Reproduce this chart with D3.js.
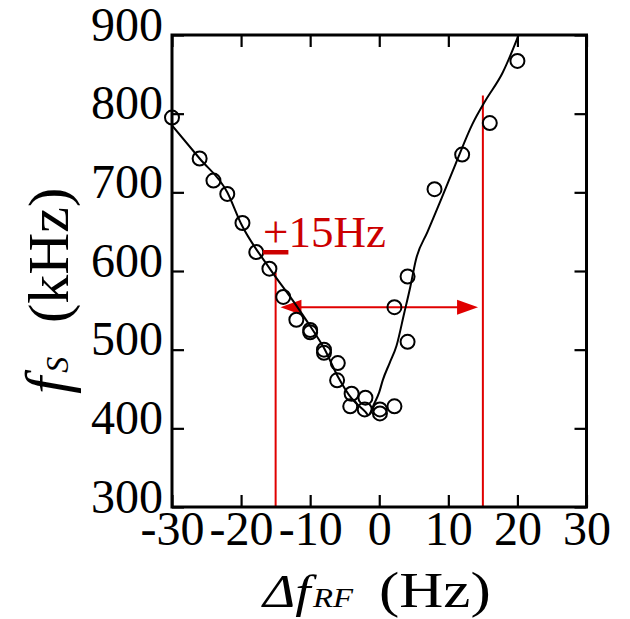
<!DOCTYPE html>
<html>
<head>
<meta charset="utf-8">
<script src="https://cdn.jsdelivr.net/npm/d3@7"></script>
<style>
  body { margin: 0; background: #fff; }
  svg text { font-family: "Liberation Serif", "Times New Roman", serif; }
</style>
</head>
<body>
<svg id="chart" width="630" height="619"></svg>
<script>
// measured points: detuning (Hz) vs frequency (kHz)
var pointX = [-30, -26, -24, -22, -19.8, -17.8, -15.9, -13.9, -12, -10, -10, -8, -8, -6, -6.1, -4, -4.2, -2, -2.1, 0.1, 0.1, 2.2, 2.2, 4.1, 4.1, 8, 12, 16, 20];
var pointY = [795, 743, 715, 698, 661, 624, 603, 567, 538, 525, 522, 500, 496, 483, 461, 444, 428, 439, 424, 424, 419, 428, 554, 510, 593, 704, 748, 788, 867];

// fitted curve
var lineX = [-30, -26, -22, -20, -16, -12, -10, -8, -6, -4, -2, -1.6, -0.7, 0, 0.5, 1.5, 2.5, 3.6, 4.5, 5.3, 7, 9, 11, 13.5, 15.4, 17.8, 20.4];
var lineY = [785, 743, 700, 660, 605, 556, 530, 502, 466, 438, 421, 417, 432, 446, 461, 483, 505, 546, 580, 614, 650, 692, 735, 787, 817, 851, 905];

// ±15 Hz markers
var markX = [-15, 15];
var markTop = [598, 823];
var arrowX = [-14.3, 14.3];
var arrowY = 554;

var xTicks = [-30, -20, -10, 0, 10, 20, 30];
var yTicks = [300, 400, 500, 600, 700, 800, 900];

var RED = "#e00000";
var RED_TEXT = "#cc0000";

var svg = d3.select("#chart");

var x = d3.scaleLinear().domain([-30, 30]).range([172, 586.5]);
var y = d3.scaleLinear().domain([300, 900]).range([507, 35]);

var fmt = function(d) { return String(d); };

// axes, ticks inward
var gx = svg.append("g").attr("transform", "translate(0,507)")
    .call(d3.axisBottom(x).tickValues(xTicks).tickFormat(fmt).tickSizeInner(-12).tickSizeOuter(0));
gx.selectAll("text").attr("y", 38).attr("dy", null).attr("font-size", 48);

var gy = svg.append("g").attr("transform", "translate(172,0)")
    .call(d3.axisLeft(y).tickValues(yTicks).tickFormat(fmt).tickSizeInner(-12).tickSizeOuter(0));
gy.selectAll("text").attr("x", -9).attr("y", 5).attr("dy", null).attr("font-size", 48);

svg.append("g").attr("transform", "translate(0,35)")
    .call(d3.axisTop(x).tickValues(xTicks).tickFormat("").tickSizeInner(-12).tickSizeOuter(0));
svg.append("g").attr("transform", "translate(586.5,0)")
    .call(d3.axisRight(y).tickValues(yTicks).tickFormat("").tickSizeInner(-12).tickSizeOuter(0));

svg.selectAll(".domain").remove();
svg.selectAll(".tick line").attr("stroke", "#000").attr("stroke-width", 2.2);
svg.selectAll(".tick text").attr("fill", "#000").attr("font-family", "Liberation Serif");

// clip for the curve
svg.append("clipPath").attr("id", "plotclip")
  .append("rect").attr("x", 172).attr("y", 35).attr("width", 414.5).attr("height", 472);

// red markers
svg.selectAll(".mark").data(markX).enter().append("line")
    .attr("x1", function(d) { return x(d); })
    .attr("x2", function(d) { return x(d); })
    .attr("y1", function(d, i) { return y(markTop[i]); })
    .attr("y2", y(300))
    .attr("stroke", RED).attr("stroke-width", 2);

svg.append("line")
    .attr("x1", x(arrowX[0]) + 10).attr("x2", x(arrowX[1]) - 10)
    .attr("y1", y(arrowY)).attr("y2", y(arrowY))
    .attr("stroke", RED).attr("stroke-width", 2);

svg.selectAll(".head").data(arrowX).enter().append("path")
    .attr("d", function(d, i) {
      var tx = x(d), ty = y(arrowY), dir = i === 0 ? 1 : -1;
      return "M" + tx + "," + ty + "L" + (tx + dir * 21) + "," + (ty - 7.5) + "L" + (tx + dir * 21) + "," + (ty + 7.5) + "Z";
    })
    .attr("fill", RED);

// fitted curve
var line = d3.line()
    .x(function(d, i) { return x(lineX[i]); })
    .y(function(d) { return y(d); })
    .curve(d3.curveMonotoneX);

svg.append("path")
    .datum(lineY)
    .attr("clip-path", "url(#plotclip)")
    .attr("d", line)
    .attr("fill", "none")
    .attr("stroke", "#000")
    .attr("stroke-width", 2);

// data circles
svg.selectAll(".pt").data(pointY).enter().append("circle")
    .attr("cx", function(d, i) { return x(pointX[i]); })
    .attr("cy", function(d) { return y(d); })
    .attr("r", 7)
    .attr("fill", "none")
    .attr("stroke", "#000")
    .attr("stroke-width", 2);

// frame
svg.append("rect")
    .attr("x", 172).attr("y", 35).attr("width", 414.5).attr("height", 472)
    .attr("fill", "none").attr("stroke", "#000").attr("stroke-width", 3);

// annotation
var ann = svg.append("text").attr("x", 263).attr("y", 247).attr("font-size", 45).attr("fill", RED_TEXT);
ann.append("tspan").attr("text-decoration", "underline").text("+");
ann.append("tspan").text("15Hz");

// x title (wide serif in the original)
var xt = svg.append("text").attr("transform", "translate(263,607) scale(1.17,1)")
    .attr("font-size", 47).attr("font-style", "italic").attr("fill", "#000");
xt.append("tspan").text("\u0394f");
xt.append("tspan").attr("font-size", 28).attr("dx", 2).text("RF");
svg.append("text").attr("transform", "translate(379,607) scale(1.22,1)")
    .attr("font-size", 50).attr("fill", "#000").text("(Hz)");

// y title
var yt = svg.append("text").attr("transform", "translate(68,394) rotate(-90)").attr("font-style", "italic").attr("fill", "#000");
yt.append("tspan").attr("font-size", 62).text("f");
yt.append("tspan").attr("font-size", 32).attr("dx", 4).text("S");
svg.append("text").attr("transform", "translate(68,323) rotate(-90)")
    .attr("font-size", 58).attr("fill", "#000").text("(kHz)");
</script>
</body>
</html>
